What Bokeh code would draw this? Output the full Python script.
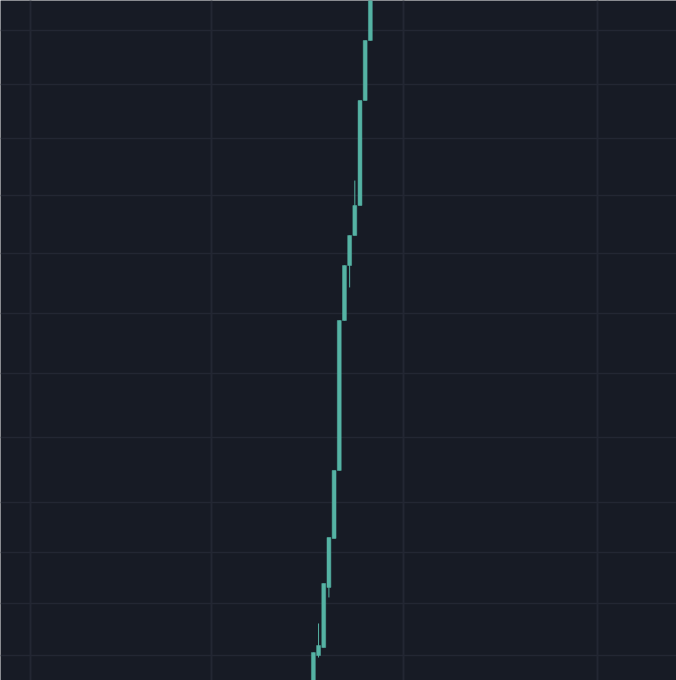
from bokeh.plotting import figure
from bokeh.models import ColumnDataSource, FixedTicker, Range1d
from bokeh.embed import file_html
from bokeh.resources import INLINE

# ---- data ----
bar_index = [0, 1, 2, 3, 4, 5, 6, 7, 8, 9, 10, 11]
opens  = [96.92, 100.00, 100.70, 105.99, 110.30, 116.29, 129.49, 134.33, 136.97, 139.61, 148.86, 154.14]
closes = [100.26, 100.88, 106.34, 110.39, 116.29, 129.49, 134.33, 136.97, 139.61, 148.86, 154.14, 159.42]
highs  = [100.26, 102.82, 106.34, 110.39, 116.29, 129.49, 134.33, 136.97, 141.81, 148.86, 154.14, 159.42]
lows   = [96.50, 99.82, 100.70, 105.11, 110.30, 116.29, 129.49, 132.40, 136.97, 139.61, 148.86, 154.14]

price_grid = [100.0, 104.6, 109.1, 113.5, 119.2, 124.8, 130.1, 135.4, 140.5, 145.5, 150.3, 155.0]
time_grid = [-54.6, -19.7, 17.4, 54.8]

BG = "#171b25"
GRID = "#232733"
UP = "#55b3a4"

src = ColumnDataSource(dict(x=bar_index, open=opens, close=closes, high=highs, low=lows))

p = figure(width=676, height=680, output_backend="svg", toolbar_location=None,
           x_range=Range1d(-60.4, 70.1), y_range=Range1d(97.8, 157.66),
           min_border=0, min_border_left=0, min_border_right=0,
           min_border_top=0, min_border_bottom=0)
p.background_fill_color = BG
p.border_fill_color = BG
p.outline_line_color = None

p.xaxis.ticker = FixedTicker(ticks=time_grid)
p.yaxis.ticker = FixedTicker(ticks=price_grid)
p.xgrid.ticker = FixedTicker(ticks=time_grid)
p.ygrid.ticker = FixedTicker(ticks=price_grid)
p.xaxis.visible = False
p.yaxis.visible = False
p.xgrid.grid_line_color = GRID
p.xgrid.grid_line_width = 2
p.ygrid.grid_line_color = GRID
p.ygrid.grid_line_width = 1.5

p.segment(x0="x", y0="low", x1="x", y1="high", source=src, line_color=UP, line_width=1)
p.vbar(x="x", width=0.75, bottom="open", top="close", source=src,
       fill_color=UP, line_color=UP, line_width=0.5)

open("out.html", "w").write(file_html(p, INLINE))
